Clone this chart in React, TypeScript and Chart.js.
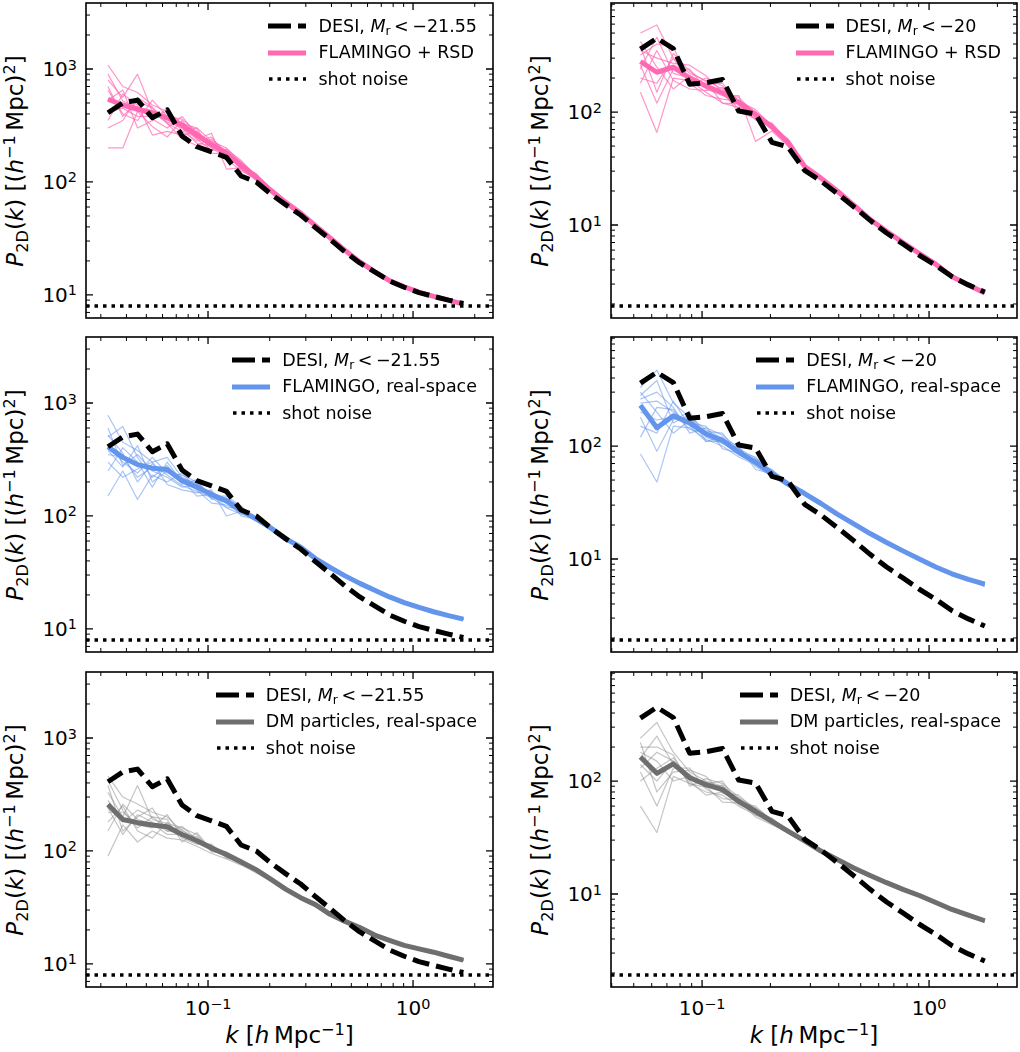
import React, { useEffect, useRef, useState } from "react";
import { Chart, registerables } from "chart.js";
Chart.register(...registerables);

const FONT = "'DejaVu Sans', 'Liberation Sans', sans-serif";

// ---------- k bins (h/Mpc) ----------
const K_BRIGHT = [0.0325, 0.0384, 0.0453, 0.0535, 0.0632, 0.0747, 0.0882, 0.104, 0.123, 0.145, 0.172, 0.203, 0.239, 0.283, 0.334, 0.394, 0.466, 0.55, 0.65, 0.767, 0.906, 1.07, 1.26, 1.49, 1.76];
const K_FAINT = [0.0535, 0.0632, 0.0747, 0.0882, 0.104, 0.123, 0.145, 0.172, 0.203, 0.239, 0.283, 0.334, 0.394, 0.466, 0.55, 0.65, 0.767, 0.906, 1.07, 1.26, 1.49, 1.76];

// ---------- DESI measurements ----------
const DESI_BRIGHT = [410, 500, 530, 370, 435, 255, 205, 185, 165, 113, 100, 78, 63, 51, 39.5, 31, 24, 19.2, 16, 13.3, 11.7, 10.5, 9.7, 9.0, 8.4];
const DESI_FAINT = [360, 450, 365, 176, 182, 194, 102, 96, 54, 49, 30.5, 24.5, 19, 14.5, 11, 8.5, 6.8, 5.4, 4.4, 3.5, 2.95, 2.55];

// ---------- shot noise levels ----------
const SHOT_BRIGHT = 8.0;
const SHOT_FAINT = 1.92;

// ---------- FLAMINGO + RSD ----------
const RSD_BRIGHT_MEAN = [540, 480, 440, 410, 370, 320, 260, 215, 180, 140, 110, 84, 66, 53, 41, 32, 24.8, 19.6, 16.1, 13.4, 11.8, 10.6, 9.7, 9.0, 8.3];
const RSD_BRIGHT_SIMS = [
  [1080, 700, 620, 480, 420, 330, 300, 230, 200, 150, 114, 88, 68, 54.5, 42, 32.6, 25.2, 19.9, 16.3, 13.55, 11.9, 10.7, 9.8, 9.05, 8.35],
  [800, 560, 900, 420, 330, 280, 230, 250, 170, 142, 106, 82, 65, 52, 40.4, 31.6, 24.5, 19.4, 16.0, 13.3, 11.7, 10.5, 9.6, 8.95, 8.25],
  [650, 400, 350, 530, 380, 360, 280, 200, 190, 148, 116, 86, 67, 53.5, 41.5, 32.3, 25.0, 19.8, 16.2, 13.5, 11.85, 10.65, 9.75, 9.0, 8.3],
  [200, 200, 420, 310, 250, 350, 240, 270, 130, 133, 104, 80, 64, 51.5, 40, 31.4, 24.4, 19.3, 15.9, 13.25, 11.7, 10.5, 9.6, 8.95, 8.25],
  [530, 650, 300, 350, 450, 300, 240, 190, 195, 155, 112, 87, 68.5, 54, 41.8, 32.5, 25.2, 19.9, 16.3, 13.55, 11.9, 10.7, 9.8, 9.05, 8.35],
  [350, 600, 480, 260, 280, 260, 280, 220, 160, 125, 108, 83, 65.5, 52.5, 40.7, 31.8, 24.6, 19.5, 16.05, 13.35, 11.75, 10.55, 9.65, 8.95, 8.3],
  [700, 380, 520, 450, 330, 240, 210, 240, 185, 140, 118, 85, 66.5, 53.2, 41.3, 32.2, 24.9, 19.7, 16.15, 13.45, 11.8, 10.6, 9.7, 9.0, 8.3],
  [420, 450, 380, 380, 420, 280, 300, 180, 175, 130, 110, 81, 67, 52.8, 41, 32, 24.8, 19.6, 16.1, 13.4, 11.8, 10.6, 9.7, 9.0, 8.3],
  [900, 520, 460, 360, 300, 380, 260, 200, 165, 148, 106, 82, 65, 52.5, 40.6, 31.7, 24.6, 19.5, 16.0, 13.35, 11.75, 10.55, 9.65, 8.95, 8.25],
  [300, 350, 560, 460, 340, 300, 220, 210, 190, 128, 104, 85, 67, 53.5, 41.4, 32.3, 25.0, 19.7, 16.2, 13.45, 11.85, 10.65, 9.75, 9.05, 8.35],
];
const RSD_FAINT_MEAN = [280, 225, 250, 200, 170, 148, 122, 95, 74, 54, 33, 26, 20, 15, 11.2, 8.8, 7.0, 5.6, 4.5, 3.5, 2.95, 2.5];
const RSD_FAINT_SIMS = [
  [500, 590, 300, 220, 190, 160, 128, 98, 76, 55, 34, 26.5, 20.3, 15.2, 11.3, 8.9, 7.05, 5.65, 4.52, 3.52, 2.97, 2.52],
  [150, 66, 200, 190, 150, 120, 110, 100, 72, 52, 32, 25.5, 19.7, 14.8, 11.1, 8.7, 6.95, 5.55, 4.48, 3.48, 2.93, 2.48],
  [320, 400, 380, 170, 200, 170, 115, 85, 78, 56, 34.5, 26.8, 20.5, 15.3, 11.4, 8.95, 7.1, 5.68, 4.55, 3.55, 2.98, 2.53],
  [260, 120, 240, 240, 160, 140, 140, 55, 68, 50, 33, 25.8, 19.8, 14.9, 11.15, 8.75, 6.98, 5.58, 4.49, 3.49, 2.94, 2.49],
  [420, 250, 160, 210, 175, 180, 120, 92, 70, 58, 33.5, 26.2, 20.1, 15.1, 11.25, 8.82, 7.02, 5.62, 4.51, 3.51, 2.95, 2.5],
  [200, 180, 300, 180, 140, 130, 125, 105, 75, 53, 32.5, 26, 19.9, 14.95, 11.2, 8.8, 7.0, 5.6, 4.5, 3.5, 2.95, 2.5],
  [350, 300, 270, 260, 210, 150, 100, 88, 80, 54, 33.2, 25.7, 20.2, 15.05, 11.2, 8.8, 7.0, 5.6, 4.5, 3.5, 2.95, 2.5],
  [240, 460, 220, 200, 165, 145, 135, 96, 73, 51, 32.8, 26.3, 20, 15, 11.2, 8.8, 7.0, 5.6, 4.5, 3.5, 2.95, 2.5],
  [380, 150, 330, 230, 185, 120, 118, 100, 71, 57, 33.8, 26.1, 20.1, 15.1, 11.25, 8.85, 7.02, 5.62, 4.52, 3.51, 2.96, 2.51],
  [180, 350, 190, 160, 155, 165, 105, 90, 77, 52, 32.3, 25.6, 19.8, 14.9, 11.15, 8.75, 6.98, 5.58, 4.48, 3.49, 2.94, 2.49],
];

// ---------- FLAMINGO real-space ----------
const REAL_BRIGHT_MEAN = [410, 330, 285, 265, 258, 205, 180, 155, 136, 112, 94, 78, 63, 53, 42, 35, 29.5, 25.3, 22, 19.2, 17.1, 15.5, 14.2, 13.1, 12.2];
const REAL_BRIGHT_SIMS = [
  [780, 450, 380, 300, 330, 220, 190, 160, 140, 115, 96, 79, 64, 53.5, 42.5, 35.3, 29.8, 25.5, 22.2, 19.35, 17.25, 15.6, 14.3, 13.2, 12.3],
  [150, 250, 140, 230, 200, 240, 170, 130, 125, 108, 91, 76, 62, 52.5, 41.6, 34.7, 29.2, 25.1, 21.8, 19.05, 16.95, 15.4, 14.1, 13.0, 12.1],
  [500, 620, 330, 220, 280, 190, 210, 140, 145, 118, 97, 80, 64.5, 53.8, 42.8, 35.5, 30.0, 25.6, 22.3, 19.4, 17.3, 15.7, 14.35, 13.25, 12.35],
  [300, 220, 260, 300, 190, 170, 160, 170, 100, 110, 92, 77, 62.5, 52.8, 41.8, 34.8, 29.3, 25.1, 21.85, 19.1, 17.0, 15.4, 14.1, 13.0, 12.1],
  [420, 300, 240, 330, 240, 230, 200, 150, 130, 105, 95, 78.5, 63.5, 53.2, 42.2, 35.1, 29.6, 25.4, 22.1, 19.3, 17.2, 15.55, 14.25, 13.15, 12.25],
  [250, 400, 300, 180, 300, 200, 175, 165, 135, 120, 90, 76.5, 63, 52.7, 41.9, 34.9, 29.4, 25.2, 21.9, 19.15, 17.05, 15.45, 14.15, 13.05, 12.15],
  [600, 280, 350, 250, 220, 180, 190, 145, 140, 100, 93, 79.5, 63.8, 53.3, 42.3, 35.2, 29.7, 25.45, 22.15, 19.3, 17.2, 15.6, 14.25, 13.15, 12.25],
  [350, 330, 220, 270, 260, 210, 150, 155, 120, 115, 94.5, 77.5, 62.8, 52.9, 42, 35, 29.5, 25.3, 22, 19.2, 17.1, 15.5, 14.2, 13.1, 12.2],
  [520, 360, 200, 290, 230, 185, 165, 145, 118, 104, 96.5, 76, 63.2, 52.6, 41.7, 34.9, 29.6, 25.35, 22.05, 19.25, 17.15, 15.55, 14.25, 13.15, 12.25],
  [380, 270, 420, 200, 250, 215, 195, 150, 150, 122, 92, 79, 62.2, 53.5, 42.4, 35.3, 29.45, 25.25, 21.95, 19.15, 17.05, 15.45, 14.15, 13.05, 12.15],
];
const REAL_FAINT_MEAN = [230, 145, 185, 160, 128, 112, 88, 72, 57, 46, 38, 31, 25, 20.5, 16.8, 14, 11.8, 10, 8.5, 7.4, 6.6, 6.0];
const REAL_FAINT_SIMS = [
  [330, 470, 240, 180, 140, 118, 92, 74, 59, 47, 38.5, 31.5, 25.4, 20.8, 17, 14.2, 12, 10.1, 8.6, 7.5, 6.65, 6.05],
  [85, 48, 150, 145, 115, 100, 80, 68, 55, 44, 37, 30.4, 24.6, 20.1, 16.5, 13.8, 11.6, 9.85, 8.35, 7.3, 6.5, 5.85],
  [260, 300, 220, 130, 145, 125, 95, 78, 61, 48.5, 39, 32, 25.7, 21, 17.2, 14.3, 12.1, 10.2, 8.65, 7.55, 6.7, 6.1],
  [180, 90, 170, 200, 120, 105, 98, 66, 54, 45, 37.3, 30.6, 24.8, 20.3, 16.6, 13.9, 11.7, 9.9, 8.4, 7.35, 6.55, 5.7],
  [300, 200, 130, 170, 135, 130, 84, 70, 58, 46.5, 38.3, 31.2, 25.2, 20.6, 16.9, 14.1, 11.9, 10.05, 8.55, 7.45, 6.6, 6.0],
  [150, 130, 250, 150, 110, 110, 90, 80, 56, 45.5, 37.7, 30.8, 24.9, 20.4, 16.7, 14, 11.8, 10, 8.5, 7.4, 6.6, 6.0],
  [240, 250, 200, 160, 150, 95, 86, 72, 62, 46, 38.8, 31.3, 25.3, 20.7, 16.9, 14.1, 11.85, 10.05, 8.5, 7.4, 6.6, 6.0],
  [200, 170, 180, 175, 125, 115, 100, 62, 57, 47, 38, 31, 25, 20.5, 16.8, 14, 11.8, 10, 8.5, 7.4, 6.6, 6.0],
  [280, 380, 160, 190, 110, 120, 90, 76, 56, 47.5, 37.5, 31.7, 25.1, 20.3, 16.7, 13.9, 11.7, 9.95, 8.45, 7.35, 6.55, 5.95],
  [120, 220, 210, 140, 130, 108, 95, 70, 60, 44.5, 38.6, 30.5, 25.6, 20.9, 17.1, 14.2, 12, 10.15, 8.6, 7.5, 6.65, 6.05],
];

// ---------- DM particles real-space ----------
const DM_BRIGHT_MEAN = [258, 190, 178, 170, 164, 140, 123, 106, 93, 80, 68, 56, 46, 38.6, 33.5, 27.5, 23.8, 21, 18, 16.2, 14.6, 13.6, 12.7, 11.7, 10.8];
const DM_BRIGHT_SIMS = [
  [460, 300, 260, 220, 200, 150, 130, 110, 96, 82, 70, 57, 47, 39.3, 34, 28, 24.1, 21.2, 18.2, 16.35, 14.7, 13.7, 12.8, 11.8, 10.9],
  [90, 170, 120, 150, 130, 125, 110, 95, 85, 75, 64, 54, 44.5, 37.6, 32.8, 27, 23.4, 20.7, 17.8, 16, 14.45, 13.5, 12.6, 11.6, 10.7],
  [330, 200, 380, 190, 175, 160, 140, 100, 98, 84, 71, 58, 47.5, 39.5, 34.2, 28.1, 24.2, 21.3, 18.3, 16.4, 14.8, 13.75, 12.85, 11.85, 10.9],
  [180, 250, 150, 130, 180, 130, 115, 115, 88, 77, 66, 55, 45, 38, 33, 27.2, 23.5, 20.8, 17.85, 16.05, 14.5, 13.5, 12.6, 11.6, 10.7],
  [380, 150, 200, 240, 150, 145, 125, 105, 90, 78, 69, 56.5, 46.5, 39, 33.8, 27.8, 24, 21.1, 18.1, 16.25, 14.65, 13.65, 12.75, 11.75, 10.85],
  [220, 220, 170, 160, 210, 135, 135, 98, 95, 81, 67, 55.5, 45.8, 38.3, 33.3, 27.4, 23.7, 20.9, 17.95, 16.15, 14.55, 13.55, 12.65, 11.65, 10.75],
  [280, 180, 230, 200, 160, 155, 120, 108, 92, 79, 68.5, 56.5, 46.2, 38.8, 33.6, 27.6, 23.9, 21, 18, 16.2, 14.6, 13.6, 12.7, 11.7, 10.8],
  [150, 260, 190, 175, 140, 140, 118, 112, 90, 80, 67.5, 56, 46, 38.6, 33.5, 27.5, 23.8, 21, 18, 16.2, 14.6, 13.6, 12.7, 11.7, 10.8],
  [420, 230, 160, 200, 190, 120, 145, 102, 97, 76, 70, 57.5, 45.5, 39.2, 33.2, 27.7, 23.9, 21.1, 18.05, 16.25, 14.65, 13.65, 12.75, 11.75, 10.85],
  [240, 140, 210, 180, 150, 165, 125, 112, 86, 83, 66.5, 54.5, 47, 38.2, 33.9, 27.3, 23.6, 20.9, 17.95, 16.15, 14.55, 13.55, 12.65, 11.65, 10.75],
];
const DM_FAINT_MEAN = [163, 117, 142, 107, 93, 84, 66, 54, 44, 36, 29.5, 24, 20.2, 17, 14.6, 12.6, 11, 9.7, 8.4, 7.3, 6.5, 5.8];
const DM_FAINT_SIMS = [
  [240, 330, 180, 120, 100, 90, 70, 56, 45, 36.5, 30, 24.4, 20.5, 17.2, 14.8, 12.75, 11.1, 9.8, 8.5, 7.4, 6.55, 5.85],
  [60, 35, 110, 95, 80, 75, 60, 50, 42, 34.5, 28.5, 23.4, 19.7, 16.6, 14.3, 12.4, 10.8, 9.55, 8.3, 7.2, 6.4, 5.65],
  [200, 200, 170, 90, 105, 95, 72, 58, 46, 37, 30.5, 24.6, 20.7, 17.3, 14.9, 12.8, 11.15, 9.85, 8.55, 7.45, 6.6, 5.9],
  [120, 60, 130, 130, 85, 70, 68, 48, 41, 35, 28.8, 23.6, 19.9, 16.8, 14.4, 12.45, 10.9, 9.6, 8.3, 7.2, 6.4, 5.6],
  [180, 150, 100, 110, 95, 100, 62, 52, 47, 36.2, 29.8, 24.2, 20.3, 17.1, 14.7, 12.65, 11.05, 9.75, 8.45, 7.35, 6.55, 5.85],
  [140, 100, 150, 100, 75, 80, 75, 55, 43, 35.5, 29.2, 23.8, 20, 16.9, 14.5, 12.55, 10.95, 9.65, 8.35, 7.25, 6.45, 5.75],
  [160, 250, 140, 115, 90, 65, 64, 60, 44.5, 36, 29.6, 24.1, 20.2, 17, 14.6, 12.6, 11, 9.7, 8.4, 7.3, 6.5, 5.8],
  [100, 130, 160, 105, 98, 88, 66, 53, 43.5, 36.5, 29.5, 24, 20.2, 17, 14.6, 12.6, 11, 9.7, 8.4, 7.3, 6.5, 5.8],
  [220, 80, 120, 125, 110, 78, 70, 50, 46, 35.2, 30.2, 24.3, 19.8, 17.2, 14.7, 12.7, 11.05, 9.75, 8.45, 7.35, 6.5, 5.8],
  [130, 180, 150, 95, 88, 92, 63, 57, 42, 37.2, 29, 23.7, 20.4, 16.8, 14.5, 12.5, 10.95, 9.65, 8.35, 7.25, 6.45, 5.75],
];

// ---------- axis ranges ----------
const X_RANGE_BRIGHT = [0.0254, 2.455];
const X_RANGE_FAINT = [0.0397, 2.44];
const Y_RANGE_BRIGHT = [6.25, 3837];
const Y_RANGE_FAINT = [1.503, 923];

const DESI_CUT_BRIGHT = "\u221221.55";
const DESI_CUT_FAINT = "\u221220";

const PINK = "#ff69b4";
const PINK_THIN = "rgba(255,105,180,0.7)";
const BLUE = "#6495ed";
const BLUE_THIN = "rgba(100,149,237,0.55)";
const GRAY = "#6e6e6e";
const GRAY_THIN = "rgba(140,140,140,0.5)";

type PanelDef = {
  left: number; top: number; w: number; h: number;
  k: number[]; desi: number[]; mean: number[]; sims: number[][];
  color: string; thin: string; model: string; cut: string;
  xr: number[]; yr: number[]; shot: number; showX: boolean;
};

const COL_LEFT = [86, 611];
const COL_W = [407, 406];
const ROW_TOP = [3, 337, 672];
const ROW_H = 315;

const MODELS = [
  { name: "FLAMINGO + RSD", color: PINK, thin: PINK_THIN, bright: [RSD_BRIGHT_MEAN, RSD_BRIGHT_SIMS], faint: [RSD_FAINT_MEAN, RSD_FAINT_SIMS] },
  { name: "FLAMINGO, real-space", color: BLUE, thin: BLUE_THIN, bright: [REAL_BRIGHT_MEAN, REAL_BRIGHT_SIMS], faint: [REAL_FAINT_MEAN, REAL_FAINT_SIMS] },
  { name: "DM particles, real-space", color: GRAY, thin: GRAY_THIN, bright: [DM_BRIGHT_MEAN, DM_BRIGHT_SIMS], faint: [DM_FAINT_MEAN, DM_FAINT_SIMS] },
];

const PANELS: PanelDef[] = [];
MODELS.forEach((m, r) => {
  [0, 1].forEach((c) => {
    const bright = c === 0;
    const src: any = bright ? m.bright : m.faint;
    PANELS.push({
      left: COL_LEFT[c], top: ROW_TOP[r], w: COL_W[c], h: ROW_H,
      k: bright ? K_BRIGHT : K_FAINT,
      desi: bright ? DESI_BRIGHT : DESI_FAINT,
      mean: src[0], sims: src[1],
      color: m.color, thin: m.thin, model: m.name,
      cut: bright ? DESI_CUT_BRIGHT : DESI_CUT_FAINT,
      xr: bright ? X_RANGE_BRIGHT : X_RANGE_FAINT,
      yr: bright ? Y_RANGE_BRIGHT : Y_RANGE_FAINT,
      shot: bright ? SHOT_BRIGHT : SHOT_FAINT,
      showX: r === 2,
    });
  });
});

const PAD = 4;

const framePlugin = {
  id: "mplFrame",
  afterDraw(chart: any) {
    const { ctx, chartArea: a, scales } = chart;
    ctx.save();
    ctx.strokeStyle = "#000";
    const each = (scale: any, fn: (p: number, major: boolean) => void) => {
      const lo = Math.floor(Math.log10(scale.min));
      const hi = Math.ceil(Math.log10(scale.max));
      for (let e = lo; e <= hi; e++) {
        for (let m = 1; m <= 9; m++) {
          const v = m * Math.pow(10, e);
          if (v < scale.min || v > scale.max) continue;
          fn(scale.getPixelForValue(v), m === 1);
        }
      }
    };
    each(scales.x, (p, major) => {
      const len = major ? 7 : 4;
      ctx.lineWidth = major ? 1.3 : 1;
      ctx.beginPath();
      ctx.moveTo(p, a.bottom); ctx.lineTo(p, a.bottom - len);
      ctx.moveTo(p, a.top); ctx.lineTo(p, a.top + len);
      ctx.stroke();
    });
    each(scales.y, (p, major) => {
      const len = major ? 7 : 4;
      ctx.lineWidth = major ? 1.3 : 1;
      ctx.beginPath();
      ctx.moveTo(a.left, p); ctx.lineTo(a.left + len, p);
      ctx.moveTo(a.right, p); ctx.lineTo(a.right - len, p);
      ctx.stroke();
    });
    ctx.lineWidth = 1.6;
    ctx.strokeRect(a.left, a.top, a.right - a.left, a.bottom - a.top);
    ctx.restore();
  },
};

const Sup = ({ children, lift = "-0.5em", size = "70%" }: any) => (
  <span style={{ fontSize: size, position: "relative", top: lift }}>{children}</span>
);
const Sub = ({ children }: any) => (
  <span style={{ fontSize: "70%", position: "relative", top: "0.3em" }}>{children}</span>
);

const expLabel = (e: number) => (e < 0 ? "\u2212" + Math.abs(e) : String(e));

function LegendLine({ kind, color }: { kind: string; color: string }) {
  if (kind === "desi")
    return (
      <svg width={38} height={12} style={{ display: "block" }}>
        <line x1={0} y1={6} x2={38} y2={6} stroke="#000" strokeWidth={5} strokeDasharray="23 7 8 0" />
      </svg>
    );
  if (kind === "shot")
    return (
      <svg width={38} height={12} style={{ display: "block" }}>
        <line x1={1} y1={6} x2={38} y2={6} stroke="#000" strokeWidth={3.5} strokeDasharray="3.5 5" />
      </svg>
    );
  return (
    <svg width={38} height={12} style={{ display: "block" }}>
      <line x1={0} y1={6} x2={38} y2={6} stroke={color} strokeWidth={5} />
    </svg>
  );
}

function Panel({ p }: { p: PanelDef }) {
  const ref = useRef<HTMLCanvasElement | null>(null);
  const [ticks, setTicks] = useState<{ xs: { e: number; pos: number }[]; ys: { e: number; pos: number }[]; left: number; bottom: number }>({ xs: [], ys: [], left: 0, bottom: 0 });

  useEffect(() => {
    const canvas = ref.current;
    if (!canvas) return;
    const pts = (vals: number[]) => p.k.map((k, i) => ({ x: k, y: vals[i] }));
    const datasets: any[] = [
      { data: [{ x: p.xr[0], y: p.shot }, { x: p.xr[1], y: p.shot }], borderColor: "#000", borderWidth: 3.5, borderDash: [3.5, 5], order: 0 },
      { data: pts(p.desi), borderColor: "#000", borderWidth: 5, borderDash: [17, 7], order: 1 },
      { data: pts(p.mean), borderColor: p.color, borderWidth: 5, order: 2 },
      ...p.sims.map((s) => ({ data: pts(s), borderColor: p.thin, borderWidth: 1.2, order: 3 })),
    ];
    const chart = new Chart(canvas, {
      type: "line",
      data: { datasets },
      options: {
        animation: false,
        responsive: false,
        maintainAspectRatio: false,
        events: [],
        layout: { padding: PAD },
        elements: {
          point: { radius: 0, hoverRadius: 0 },
          line: { tension: 0, borderJoinStyle: "round", borderCapStyle: "butt", fill: false },
        },
        plugins: { legend: { display: false }, tooltip: { enabled: false } },
        scales: {
          x: { type: "logarithmic", min: p.xr[0], max: p.xr[1], display: false, bounds: "data" },
          y: { type: "logarithmic", min: p.yr[0], max: p.yr[1], display: false, bounds: "data" },
        },
      } as any,
      plugins: [framePlugin],
    });
    const xs: any = chart.scales.x;
    const ys: any = chart.scales.y;
    const decades = (lo: number, hi: number) => {
      const out: number[] = [];
      for (let e = Math.ceil(Math.log10(lo)); e <= Math.floor(Math.log10(hi)); e++) out.push(e);
      return out;
    };
    setTicks({
      xs: decades(xs.min, xs.max).map((e) => ({ e, pos: xs.getPixelForValue(Math.pow(10, e)) })),
      ys: decades(ys.min, ys.max).map((e) => ({ e, pos: ys.getPixelForValue(Math.pow(10, e)) })),
      left: chart.chartArea.left,
      bottom: chart.chartArea.bottom,
    });
    return () => chart.destroy();
  }, []);

  const W = p.w + 2 * PAD;
  const H = p.h + 2 * PAD;
  return (
    <div style={{ position: "absolute", left: p.left - PAD, top: p.top - PAD, width: W, height: H }}>
      <canvas ref={ref} width={W} height={H} style={{ display: "block", width: W, height: H }} />
      {ticks.ys.map((t) => (
        <div key={"y" + t.e} style={{ position: "absolute", left: ticks.left - 9, top: t.pos, transform: "translate(-100%, -50%)", fontSize: 20, lineHeight: 1, whiteSpace: "nowrap" }}>
          10<Sup lift="-0.45em" size="72%">{expLabel(t.e)}</Sup>
        </div>
      ))}
      {p.showX && ticks.xs.map((t) => (
        <div key={"x" + t.e} style={{ position: "absolute", left: t.pos, top: ticks.bottom + 11, transform: "translateX(-50%)", fontSize: 20, lineHeight: 1, whiteSpace: "nowrap" }}>
          10<Sup lift="-0.45em" size="72%">{expLabel(t.e)}</Sup>
        </div>
      ))}
      <div style={{ position: "absolute", right: PAD + 16, top: PAD + 10, fontSize: 17.5, lineHeight: 1 }}>
        {[
          { kind: "desi", text: <span>DESI, <i>M</i><Sub>r</Sub>{"\u2009<\u2009"}{p.cut}</span> },
          { kind: "model", text: <span>{p.model}</span> },
          { kind: "shot", text: <span>shot noise</span> },
        ].map((row, i) => (
          <div key={i} style={{ display: "flex", alignItems: "center", height: 26.5 }}>
            <LegendLine kind={row.kind} color={p.color} />
            <div style={{ marginLeft: 12, whiteSpace: "nowrap" }}>{row.text}</div>
          </div>
        ))}
      </div>
    </div>
  );
}

function YTitle({ cx, cy }: { cx: number; cy: number }) {
  return (
    <div style={{ position: "absolute", left: cx, top: cy, transform: "translate(-50%, -50%) rotate(-90deg)", fontSize: 23, lineHeight: 1, whiteSpace: "nowrap" }}>
      <i>P</i><Sub>2D</Sub>(<i>k</i>) [(<i>h</i><Sup>{"\u22121"}</Sup>{"\u2009"}Mpc)<Sup>2</Sup>]
    </div>
  );
}

function XTitle({ cx, cy }: { cx: number; cy: number }) {
  return (
    <div style={{ position: "absolute", left: cx, top: cy, transform: "translate(-50%, -50%)", fontSize: 23, lineHeight: 1, whiteSpace: "nowrap" }}>
      <i>k</i> [<i>h</i>{"\u2009"}Mpc<Sup>{"\u22121"}</Sup>]
    </div>
  );
}

export default function App() {
  useEffect(() => {
    document.body.style.margin = "0";
  }, []);
  return (
    <div style={{ position: "absolute", left: 0, top: 0, width: 1020, height: 1052, background: "#fff", fontFamily: FONT, color: "#000", overflow: "hidden" }}>
      {PANELS.map((p, i) => <Panel key={i} p={p} />)}
      {ROW_TOP.map((t, r) => (
        <React.Fragment key={r}>
          <YTitle cx={15} cy={t + ROW_H / 2} />
          <YTitle cx={540} cy={t + ROW_H / 2} />
        </React.Fragment>
      ))}
      <XTitle cx={COL_LEFT[0] + COL_W[0] / 2} cy={1035} />
      <XTitle cx={COL_LEFT[1] + COL_W[1] / 2} cy={1035} />
    </div>
  );
}
